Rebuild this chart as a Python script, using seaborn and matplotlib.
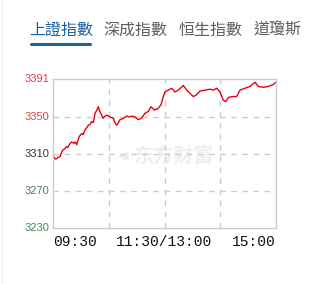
import numpy as np
import pandas as pd
import matplotlib
matplotlib.use("Agg")
import matplotlib.pyplot as plt
import seaborn as sns

tabs = ["上證指數", "深成指數", "恒生指數", "道瓊斯"]
minutes = [0, 1, 2.5, 4, 5.5, 7.5, 9, 10.4, 12.5, 14.7, 16, 17.5, 19, 20.1, 22.6, 24, 25.5,
           27, 28.3, 30.9, 32.5, 34.4, 36, 38, 40, 41.6, 43.5, 45.2, 47, 48.8, 50, 51.3,
           54.1, 56, 57.8, 61.3, 64.9, 66.5, 68.6, 72.1, 75.7, 79.3, 82, 84.7, 88.2,
           91.8, 95.5, 99, 102.6, 105.5, 109, 112.7, 116.2, 118.7, 120.5, 124.1, 127.7,
           131.3, 134.8, 140.2, 143.9, 147.4, 151, 154.6, 158.2, 163.6, 169, 172.5, 176.2,
           179.7, 183.3, 185.9, 188.7, 192.3, 197.7, 201.2, 206.6, 212, 217.4, 220.9,
           226.3, 231.7, 237.1, 240]
values = [3306, 3307, 3304.5, 3305, 3306.5, 3307, 3311, 3314, 3315.5, 3318, 3317, 3320,
          3322, 3323, 3321.5, 3323, 3320, 3325, 3329, 3332, 3331, 3336, 3338, 3341, 3342,
          3345, 3344, 3354, 3357, 3361, 3357, 3354, 3348.5, 3351, 3352, 3350, 3348.5,
          3344, 3341, 3347, 3348.5, 3351, 3350, 3351, 3350, 3347, 3349, 3354, 3356, 3361,
          3357.5, 3359, 3363, 3372, 3377, 3379, 3381, 3377, 3379, 3384, 3379, 3375.5, 3372,
          3374, 3378, 3379, 3380, 3379, 3381, 3377, 3368, 3366.5, 3371, 3372, 3372, 3379,
          3381, 3383, 3387.5, 3383, 3382, 3383, 3385, 3387.5]
y_ticks = [3230, 3270, 3310, 3350, 3391]
y_tick_colors = ["#3b8a5a", "#3b8a5a", "#2b3a3a", "#f03c3c", "#f03c3c"]
x_labels = ["09:30", "11:30/13:00", "15:00"]

sns.set_theme(style="white")
plt.rcParams['font.family'] = ['Noto Sans CJK TC', 'DejaVu Sans']

fig = plt.figure(figsize=(3.28, 2.84), dpi=100)
fig.patch.set_facecolor("white")
ax = fig.add_axes([53/328, 1 - 228/284, 223/328, 149/284])

df = pd.DataFrame({"minute": minutes, "value": values})
sns.lineplot(data=df, x="minute", y="value", ax=ax, color="#e8000b", linewidth=1.0)

ax.set_xlim(0, 240)
ax.set_ylim(3230, 3391)
ax.set_xticks([60, 120, 180])
ax.set_yticks([3270, 3310, 3350])
ax.grid(True, linestyle=(0, (4, 4)), color="#cccccc", linewidth=1)
ax.set_xticklabels([])
ax.set_yticklabels([])
ax.tick_params(length=0)
ax.set_xlabel("")
ax.set_ylabel("")
for s in ax.spines.values():
    s.set_color("#cccccc")
    s.set_linewidth(1)

for v, c in zip(y_ticks, y_tick_colors):
    ax.annotate(str(v), xy=(0, v), xycoords=("axes fraction", "data"),
                xytext=(-2.5, 0), textcoords="offset points", ha="right", va="center",
                fontsize=8, color=c, family="Liberation Sans")

xpos = [0, 120, 240]
has = ["left", "center", "right"]
for xp, lab, ha in zip(xpos, x_labels, has):
    ax.annotate(lab, xy=(xp, 0), xycoords=("data", "axes fraction"),
                xytext=(0, -5), textcoords="offset points", ha=ha, va="top",
                fontsize=10.5, color="#111111", family="Liberation Mono")

# watermark
ax.text(0.545, 0.49, "东方财富", transform=ax.transAxes, ha="center", va="center",
        fontsize=14.5, fontweight="bold", color="#eeeeee",
        family=["Noto Sans CJK SC", "DejaVu Sans"], zorder=0)
ax.text(0.315, 0.49, "◀", transform=ax.transAxes, ha="center", va="center",
        fontsize=10, color="#eeeeee", family="DejaVu Sans", zorder=0)

tab_x = [29, 103, 179, 254]
tab_colors = ["#1f5f9e", "#606060", "#606060", "#606060"]
for t, xx, c in zip(tabs, tab_x, tab_colors):
    fig.text(xx/328, 1 - 30/284, t, ha="left", va="center", fontsize=11.5, color=c,
             family=["Noto Sans CJK TC", "DejaVu Sans"])
fig.add_artist(plt.Line2D([31/328, 90/328], [1 - 43.5/284, 1 - 43.5/284],
                          color="#1f5f9e", linewidth=2.2))
fig.add_artist(plt.Line2D([1.5/328, 1.5/328], [0, 1], color="#eeeeee", linewidth=1))

fig.savefig("out.png", dpi=100, facecolor="white")
